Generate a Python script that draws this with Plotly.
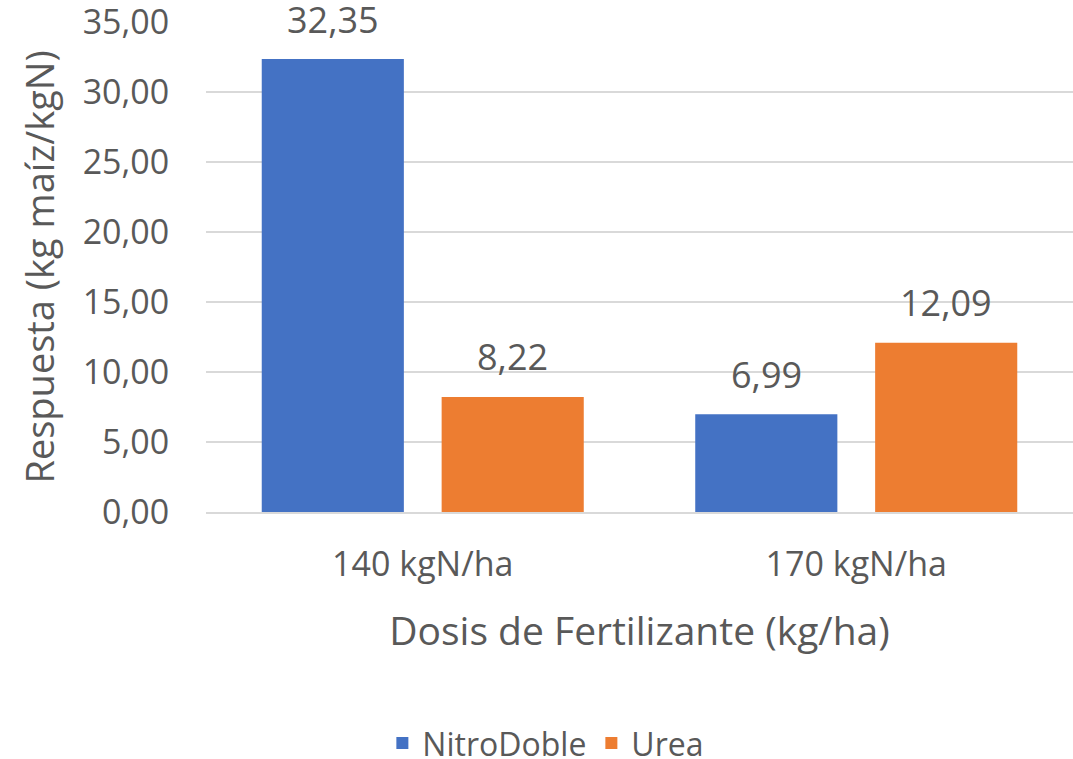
import plotly.graph_objects as go

categories = ["140 kgN/ha", "170 kgN/ha"]
nitrodoble = [32.35, 6.99]
urea = [8.22, 12.09]
series_names = ["NitroDoble", "Urea"]
y_ticks = [0, 5, 10, 15, 20, 25, 30, 35]

FONT = "Open Sans"
TXT = "#595959"
colors = ["#4472C4", "#ED7D31"]

fig = go.Figure()
for name, vals, col in zip(series_names, [nitrodoble, urea], colors):
    fig.add_trace(go.Bar(name=name, x=categories, y=vals, marker_color=col,
                         marker_line_width=0))

# data labels
for vals, shift in zip([nitrodoble, urea], [-90, 90]):
    for c, v in zip(categories, vals):
        fig.add_annotation(x=c, y=v, xref="x", yref="y", text=f"{v:.2f}".replace(".", ","),
                           showarrow=False, xshift=shift, yshift=40,
                           font=dict(family=FONT, size=36, color=TXT))

fig.update_layout(
    width=1073, height=759,
    margin=dict(l=206, r=0, t=22, b=247, autoexpand=False),
    paper_bgcolor="white", plot_bgcolor="white",
    separators=", ",
    barmode="group", bargap=0.17, bargroupgap=0.21,
    font=dict(family=FONT, color=TXT, size=34),
    showlegend=True,
    legend=dict(orientation="h", x=0.392, xanchor="center", y=-0.472, yanchor="middle",
                font=dict(family=FONT, size=32, color=TXT), itemwidth=30,
                bgcolor="rgba(0,0,0,0)"),
)
fig.update_yaxes(range=[0, 35], tickvals=y_ticks, tickformat=".2f", automargin=False,
                 ticklabeloverflow="allow",
                 showgrid=True, gridcolor="#D9D9D9", gridwidth=2,
                 zeroline=False, showline=False,
                 ticks="outside", ticklen=29, tickcolor="rgba(0,0,0,0)",
                 tickfont=dict(family=FONT, size=34, color=TXT),
                 title=dict(text="Respuesta (kg maíz/kgN)", standoff=16,
                            font=dict(family=FONT, size=38, color=TXT)))
fig.update_xaxes(showline=True, linecolor="#D9D9D9", linewidth=2, automargin=False,
                 ticklabeloverflow="allow",
                 ticks="outside", ticklen=21, tickcolor="rgba(0,0,0,0)",
                 tickfont=dict(family=FONT, size=34, color=TXT),
                 title=dict(text="Dosis de Fertilizante (kg/ha)", standoff=33,
                            font=dict(family=FONT, size=39, color=TXT)))

fig.write_html("out.html", config={"displayModeBar": False},
               post_script="document.body.style.margin='0';")
